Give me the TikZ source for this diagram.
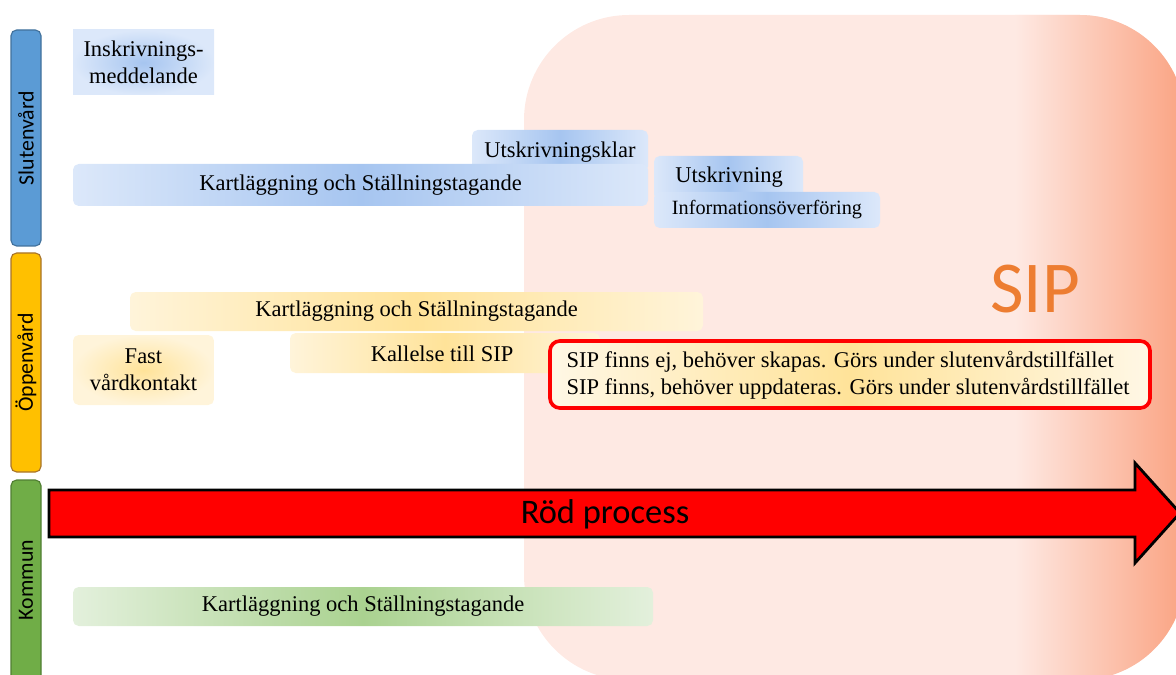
\documentclass[tikz,border=0pt]{standalone}
\usepackage{fontspec}
\setmainfont{Liberation Serif}
\newfontfamily\calibri{Carlito}
\usetikzlibrary{fit}

\definecolor{sipPink}{HTML}{FEE9E3}
\definecolor{sipSalmon}{HTML}{FAA382}
\definecolor{sipOrange}{HTML}{ED7D31}
\definecolor{laneBlue}{HTML}{5B9BD5}
\definecolor{laneBlueLine}{HTML}{41719C}
\definecolor{laneYellow}{HTML}{FFC000}
\definecolor{laneYellowLine}{HTML}{A8742A}
\definecolor{laneGreen}{HTML}{70AD47}
\definecolor{laneGreenLine}{HTML}{507E32}
\definecolor{blueLight}{HTML}{DCE8FA}
\definecolor{blueDark}{HTML}{A6C5F0}
\definecolor{yellowLight}{HTML}{FFF4DA}
\definecolor{yellowDark}{HTML}{FFE399}
\definecolor{greenLight}{HTML}{E3F0DC}
\definecolor{greenDark}{HTML}{AAD290}

\tikzset{
  lane/.style={rounded corners=4pt, line width=0.8pt, inner sep=0pt},
  lanetext/.style={rotate=90, font=\calibri\fontsize{15.5}{17}\selectfont},
  stepbox/.style={rounded corners=4pt, inner sep=0pt},
  steptext/.style={font=\fontsize{16}{19}\selectfont, align=center, inner sep=0pt},
  bluebox/.style={stepbox, left color=blueLight, right color=blueLight, middle color=blueDark},
  yellowbox/.style={stepbox, left color=yellowLight, right color=yellowLight, middle color=yellowDark},
  greenbox/.style={stepbox, left color=greenLight, right color=greenLight, middle color=greenDark}
}

\begin{document}
\begin{tikzpicture}[x=0.025cm, y=-0.025cm]

    \useasboundingbox (0,0) rectangle (1176,675);

    % SIP area in the background
    \fill[sipPink, rounded corners=2.625cm] (524,15) rectangle (1185,680);
    \begin{scope}
      \clip[rounded corners=2.625cm] (524,15) rectangle (1185,680);
      \shade[left color=sipPink, right color=sipSalmon] (1015,0) rectangle (1185,700);
    \end{scope}
    \node[text=sipOrange, font=\calibri\fontsize{52}{60}\selectfont] (sipTitle) at (1035,289) {SIP};

    % Lanes
    \node[lane, fill=laneBlue, draw=laneBlueLine, fit={(11,30) (41,246)}] (slutenvard) {};
    \node[lanetext] (slutenvardText) at (slutenvard) {Slutenvård};
    \node[lane, fill=laneYellow, draw=laneYellowLine, fit={(11,253) (41,472)}] (oppenvard) {};
    \node[lanetext] (oppenvardText) at (oppenvard) {Öppenvård};
    \node[lane, fill=laneGreen, draw=laneGreenLine, fit={(11,480) (41,700)}] (kommun) {};
    \node[lanetext] (kommunText) at (26,580) {Kommun};

    % Slutenvard steps
    \node[stepbox, rounded corners=0pt, shading=radial, inner color=blueDark, outer color=blueLight,
          fit={(73,30) (214,95)}] (inskrivning) {};
    \node[steptext] (inskrivningText) at (inskrivning) {Inskrivnings-\\meddelande};
    \node[bluebox, fit={(472,130) (648,172)}] (utskrKlar) {};
    \node[steptext] (utskrKlarText) at (560,152) {Utskrivningsklar};
    \node[bluebox, fit={(73,164) (648,206)}] (slKart) {};
    \node[steptext] (slKartText) at (slKart) {Kartläggning och Ställningstagande};
    \node[bluebox, fit={(654,156) (803,200)}] (utskrivning) {};
    \node[steptext] (utskrivningText) at (729,177) {Utskrivning};
    \node[bluebox, fit={(654,192) (880,228)}] (infoOverf) {};
    \node[steptext, font=\fontsize{14.4}{17}\selectfont] (infoOverfText) at (infoOverf) {Informationsöverföring};

    % Oppenvard steps
    \node[yellowbox, fit={(130,292) (703,331)}] (opKart) {};
    \node[steptext] (opKartText) at (opKart) {Kartläggning och Ställningstagande};
    \node[yellowbox, shading=radial, inner color=yellowDark, outer color=yellowLight,
          fit={(73,335) (214,405)}] (fastKontakt) {};
    \node[steptext] (fastKontaktText) at (fastKontakt) {Fast\\vårdkontakt};
    \node[yellowbox, fit={(290,333) (600,373)}] (kallelse) {};
    \node[steptext] (kallelseText) at (442,354) {Kallelse till SIP};

    % SIP cases
    \node[stepbox, draw=red, line width=2.6pt, rounded corners=7pt,
          left color=yellowLight!70!white, right color=yellowLight!70!white, middle color=yellowDark,
          fit={(550,341) (1150,408)}] (sipCases) {};
    \node[steptext, align=left, font=\fontsize{16}{19.5}\selectfont] (sipCasesText) at (848,375)
          {SIP finns ej, behöver skapas. Görs under slutenvårdstillfället\\
           SIP finns, behöver uppdateras. Görs under slutenvårdstillfället};

    % Red process arrow
    \draw[fill=red, line width=2pt, line join=miter]
      (49,490) -- (1135,490) -- (1135,463) -- (1180,513) -- (1135,563) -- (1135,537) -- (49,537) -- cycle;
    \node[font=\calibri\fontsize{24.5}{28}\selectfont] (rodProcess) at (605,514) {Röd process};

    % Kommun steps
    \node[greenbox, fit={(73,587) (653,626)}] (koKart) {};
    \node[steptext] (koKartText) at (koKart) {Kartläggning och Ställningstagande};

\end{tikzpicture}
\end{document}
